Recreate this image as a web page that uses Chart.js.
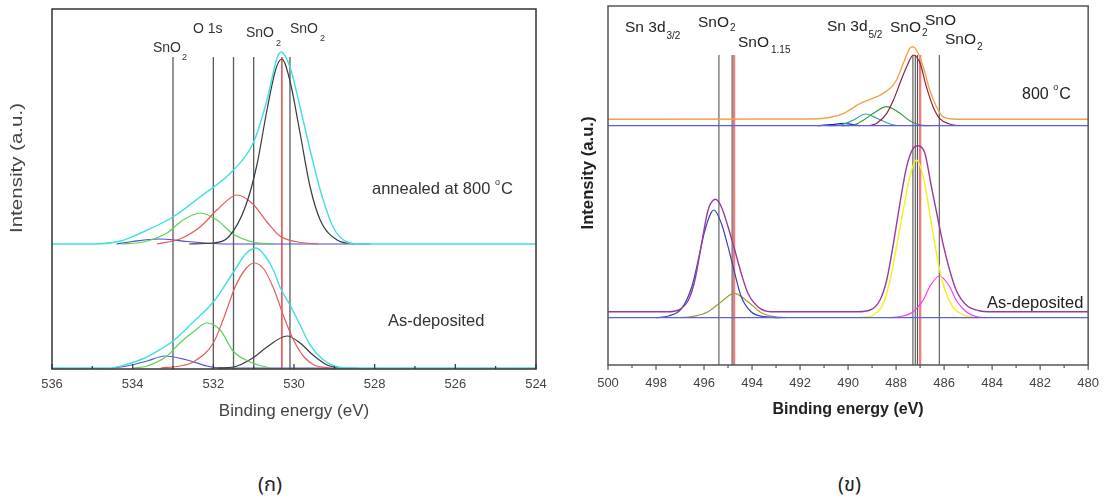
<!DOCTYPE html>
<html>
<head>
<meta charset="utf-8">
<script src="https://cdn.jsdelivr.net/npm/chart.js@4.4.1/dist/chart.umd.min.js"></script>
<style>
    body { margin: 0; background: #fff; width: 1110px; height: 499px; position: relative; overflow: hidden; }
    #boxA { position: absolute; left: 0; top: 0; width: 560px; height: 440px; }
    #boxB { position: absolute; left: 560px; top: 0; width: 550px; height: 440px; }
    .cap { position: absolute; top: 470px; font-size: 20px; color: #222; font-family: "Noto Sans Thai", "Noto Sans", "DejaVu Sans", sans-serif; }
</style>
</head>
<body>
<div id="boxA"><canvas id="chartA" width="560" height="440"></canvas></div>
<div id="boxB"><canvas id="chartB" width="550" height="440"></canvas></div>
<div class="cap" style="left:258px">(ก)</div>
<div class="cap" style="left:838px">(ข)</div>
<script>
"use strict";

// ---- (ก) O 1s : [binding energy eV, intensity] ----
var ticksA = [536, 534, 532, 530, 528, 526, 524];
var annealedTotal = [[536,125],[534.9,125],[534.3,128],[533.8,136],[533.0,152],[532.33,172],[531.5,199],[531.0,227],[530.67,269],[530.42,311],[530.32,317],[530.1,302],[529.85,262],[529.6,219],[529.35,179],[529.03,142],[528.69,127],[528.36,125],[524,125]];
var annealedBlack = [[532.6,125],[532.0,126],[531.6,133],[531.2,163],[530.92,204],[530.67,259],[530.45,300],[530.3,310],[530.1,288],[529.85,236],[529.6,182],[529.35,149],[528.93,129],[528.5,125]];
var annealedRed = [[533.4,125],[532.83,130],[532.33,142],[531.91,159],[531.41,174],[531.02,165],[530.67,147],[530.35,133],[529.9,127],[529.4,125]];
var annealedGreen = [[534.3,125],[533.74,127],[533.15,136],[532.75,149],[532.33,156],[531.91,149],[531.51,135],[531.02,127],[530.5,125]];
var annealedBlue = [[534.4,125],[534.0,127.5],[533.35,130],[532.65,127.5],[532.0,125.5],[531.5,125],[528.1,125]];

var depositedTotal = [[536,1],[534.6,1],[534.2,4],[533.7,11],[533.3,20],[533.0,28],[532.5,47],[532.0,67],[531.5,97],[531.2,115],[530.94,121],[530.7,112],[530.5,98],[530.35,82],[530.1,64],[529.85,44],[529.6,24],[529.3,10],[529.0,3],[528.6,1],[524,1]];
var depositedRed = [[533.3,1],[532.83,3],[532.5,7],[532.0,26],[531.75,50],[531.46,82],[531.2,100],[530.99,106],[530.75,100],[530.5,80],[530.25,52],[530.0,28],[529.75,12],[529.5,4],[529.1,1]];
var depositedGreen = [[534.0,1],[533.64,3],[533.15,13],[532.83,26],[532.5,37],[532.16,46],[531.83,39],[531.51,18],[531.09,7],[530.6,1]];
var depositedBlue = [[534.5,1],[534.14,3],[533.64,8],[533.2,13],[532.65,9],[532.16,3],[531.8,1],[528.4,1]];
var depositedBlack = [[531.9,1],[531.5,2],[531.02,11],[530.67,22],[530.17,33],[529.85,26],[529.53,14],[529.18,4],[528.86,1]];

var markersA = [533.0, 532.0, 531.5, 531.0, 530.1];
var markersARed = [530.3];

// ---- (ข) Sn 3d ----
var ticksB = [500, 498, 496, 494, 492, 490, 488, 486, 484, 482, 480];
var hotTotal = [[500,245.7],[491.42,246],[490.73,247.7],[490.18,251.7],[489.49,261.7],[488.8,268.3],[488.25,276.7],[487.98,285],[487.7,301.7],[487.43,316.7],[487.31,318.3],[487.15,315],[486.87,298.3],[486.6,275],[486.32,258.3],[486.05,248.3],[485.5,245.7],[480,245.7]];
var hotBase = [[500,239.3],[480,239.3]];
var hotMaroon = [[489.1,239.3],[488.8,241.7],[488.39,251.7],[488.11,265],[487.84,281.7],[487.56,298.3],[487.28,310],[487.0,301.7],[486.74,278.3],[486.46,258.3],[486.19,246.7],[485.77,241],[485.4,239.3]];
var hotGreen = [[490.3,239.3],[489.77,240],[489.35,245],[488.94,251.7],[488.39,258.3],[487.84,251.7],[487.43,244.3],[487.0,240],[486.6,239.3]];
var hotTeal = [[490.8,239.3],[490.32,240],[489.77,245],[489.27,251],[488.8,246.7],[488.25,241],[487.98,239.3]];
var hotNavy = [[491.3,239.3],[490.7,240.3],[490.18,241.7],[489.8,240.5],[489.5,239.3]];

var asdepTotal = [[500,53.3],[497.5,53.3],[497.07,55],[496.65,65],[496.38,85],[496.1,121.7],[495.83,155],[495.52,165.7],[495.28,158.3],[495.0,138.3],[494.72,115],[494.45,91.7],[494.17,71.7],[493.76,58.3],[493.21,53.3],[489.6,53.3],[489.08,55],[488.67,65],[488.39,85],[488.11,121.7],[487.84,161.7],[487.56,198.3],[487.29,216.7],[487.08,219.3],[486.8,211.7],[486.53,178.3],[486.25,145],[486.05,121.7],[485.77,95],[485.5,75],[485.08,60],[484.54,54.3],[484.0,53.3],[480,53.3]];
var asdepBase = [[500,47.3],[480,47.3]];
var asdepBlue = [[498.0,47.3],[497.48,49],[496.93,56.7],[496.51,78.3],[496.24,105],[495.96,135],[495.59,155],[495.28,141.7],[495.0,118.3],[494.72,91.7],[494.45,68.3],[494.04,53.3],[493.49,48.3],[492.8,47.3]];
var asdepOlive = [[497.0,47.3],[496.51,48.3],[495.83,53.3],[495.28,63.3],[494.75,71.7],[494.17,63.3],[493.62,52.3],[493.07,48.3],[492.6,47.3]];
var asdepYellow = [[489.5,47.3],[488.94,50],[488.53,61.7],[488.25,85],[487.98,118.3],[487.7,155],[487.43,188.3],[487.15,205],[486.87,188.3],[486.6,151.7],[486.32,111.7],[486.05,81.7],[485.64,58.3],[485.08,49],[484.6,47.3]];
var asdepMagenta = [[488.25,47.3],[487.84,48.3],[487.29,53.3],[486.87,65],[486.6,78.3],[486.19,89],[485.77,78.3],[485.5,65],[485.08,53.3],[484.67,48.3],[484.26,47.3]];

var markersB = [495.38, 494.83, 487.30, 487.20, 487.11, 486.20];
var markersBRed = [494.75, 487.0];

var FONT = 'Arial, "Liberation Sans", sans-serif';

function pts(a) {
    return a.map(function (p) { return { x: p[0], y: p[1] }; });
}

function curve(a, color, width, order) {
    return {
        data: pts(a),
        borderColor: color,
        borderWidth: width || 1.2,
        pointRadius: 0,
        fill: false,
        cubicInterpolationMode: 'monotone',
        order: order || 1
    };
}

function marker(e, top, color, width) {
    return {
        data: [{ x: e, y: 0 }, { x: e, y: top }],
        borderColor: color,
        borderWidth: width,
        pointRadius: 0,
        fill: false,
        order: 9
    };
}

// text with optional sub / superscript pieces: [[text, size, dy], ...]
function label(ctx, x, y, parts, color, weight) {
    ctx.fillStyle = color;
    ctx.textBaseline = 'alphabetic';
    ctx.textAlign = 'left';
    parts.forEach(function (p) {
        ctx.font = (weight || '') + ' ' + p[1] + 'px ' + FONT;
        ctx.fillText(p[0], x, y + (p[2] || 0));
        x += ctx.measureText(p[0]).width + (p[3] || 0);
    });
}

function yTitle(ctx, text, cx, cy, len, font, color) {
    ctx.save();
    ctx.font = font;
    ctx.fillStyle = color;
    ctx.textAlign = 'center';
    ctx.textBaseline = 'middle';
    var w = ctx.measureText(text).width;
    ctx.translate(cx, cy);
    ctx.rotate(-Math.PI / 2);
    ctx.scale(len / w, 1);
    ctx.fillText(text, 0, 0);
    ctx.restore();
}

function framePlugin(frameColor, inward, drawTexts) {
    return {
        id: 'frame',
        afterDatasetsDraw: function (chart) {
            var ctx = chart.ctx, a = chart.chartArea, sx = chart.scales.x;
            ctx.save();
            ctx.strokeStyle = frameColor;
            ctx.lineWidth = 1.5;
            ctx.strokeRect(a.left, a.top, a.right - a.left, a.bottom - a.top);
            ctx.lineWidth = 1.2;
            for (var v = sx.min; v <= sx.max; v += 1) {
                var px = sx.getPixelForValue(v);
                var len = (v % 2 === 0) ? 5 : 3;
                ctx.beginPath();
                ctx.moveTo(px, a.bottom);
                ctx.lineTo(px, inward ? a.bottom - len : a.bottom + len);
                ctx.stroke();
            }
            drawTexts(ctx);
            ctx.restore();
        }
    };
}

function baseOptions(xmin, xmax, ticks, yTop, xh, yw, pad, tickPad, titleFont, titleColor, titlePadBottom) {
    return {
        responsive: false,
        animation: false,
        events: [],
        layout: { padding: pad },
        plugins: { legend: { display: false }, tooltip: { enabled: false } },
        scales: {
            x: {
                type: 'linear',
                reverse: true,
                min: xmin,
                max: xmax,
                afterBuildTicks: function (s) { s.ticks = ticks.map(function (v) { return { value: v }; }); },
                afterFit: function (s) { s.height = xh; },
                grid: { display: false, drawTicks: false },
                border: { display: false },
                ticks: { padding: tickPad, color: '#444', font: { family: FONT, size: 13 } },
                title: {
                    display: true,
                    text: 'Binding energy (eV)',
                    color: titleColor,
                    font: titleFont,
                    padding: { top: 0, bottom: titlePadBottom }
                }
            },
            y: {
                min: 0,
                max: yTop,
                afterFit: function (s) { s.width = yw; },
                grid: { display: false },
                border: { display: false },
                ticks: { display: false }
            }
        }
    };
}

// ---- chart (ก) ----
var setsA = [
    curve(annealedTotal, '#44dede', 1.4, 1),
    curve(annealedBlack, '#3a3a3a', 1.2, 2),
    curve(annealedRed, '#e65a5a', 1.2, 2),
    curve(annealedGreen, '#5ad25a', 1.2, 2),
    curve(annealedBlue, '#4a4ad6', 1.2, 3),
    curve(depositedTotal, '#44dede', 1.4, 1),
    curve(depositedRed, '#e65a5a', 1.2, 2),
    curve(depositedGreen, '#5ad25a', 1.2, 2),
    curve(depositedBlue, '#5a5ad6', 1.2, 3),
    curve(depositedBlack, '#3a3a3a', 1.2, 2)
];
markersA.forEach(function (e) { setsA.push(marker(e, 312, '#5a5a5a', 1.3)); });
markersARed.forEach(function (e) { setsA.push(marker(e, 312, '#e02a2a', 1.3)); });

new Chart(document.getElementById('chartA').getContext('2d'), {
    type: 'line',
    data: { datasets: setsA },
    options: baseOptions(524, 536, ticksA, 360, 71, 52, { left: 0, top: 9, right: 24, bottom: 0 }, 8,
        { family: FONT, size: 17 }, '#444', 18),
    plugins: [framePlugin('#333', true, function (ctx) {
        var c = '#333';
        label(ctx, 153, 52, [['SnO', 14, 0, 1], ['2', 9, 8]], c);
        label(ctx, 193, 33, [['O 1s', 14]], c);
        label(ctx, 246, 37, [['SnO', 14, 0, 2], ['2', 9, 9]], c);
        label(ctx, 290, 33, [['SnO', 14, 0, 2], ['2', 9, 8]], c);
        label(ctx, 372, 194, [['annealed at 800 ', 16.5], ['o', 9, -9, 1], ['C', 16.5]], c);
        label(ctx, 388, 326, [['As-deposited', 16.5]], c);
        yTitle(ctx, 'Intensity (a.u.)', 17, 168, 130, '17px ' + FONT, '#444');
    })]
});

// ---- chart (ข) ----
var setsB = [
    curve(hotTotal, '#f2a24a', 1.4, 1),
    curve(hotBase, '#5c5ce6', 1.3, 2),
    curve(hotMaroon, '#8e2440', 1.2, 2),
    curve(hotGreen, '#2f9e3c', 1.2, 2),
    curve(hotTeal, '#2ea3a8', 1.2, 2),
    curve(hotNavy, '#1a26a8', 1.2, 2),
    curve(asdepTotal, '#9a3a9e', 1.4, 1),
    curve(asdepBase, '#6262d8', 1.3, 2),
    curve(asdepBlue, '#3444b4', 1.2, 2),
    curve(asdepOlive, '#9c9a30', 1.2, 2),
    curve(asdepYellow, '#f2f21a', 1.4, 2),
    curve(asdepMagenta, '#f53cf5', 1.2, 2)
];
markersB.forEach(function (e) { setsB.push(marker(e, 310, '#555', 1.1)); });
markersBRed.forEach(function (e) { setsB.push(marker(e, 310, 'rgba(240,100,100,0.85)', 2.4)); });

new Chart(document.getElementById('chartB').getContext('2d'), {
    type: 'line',
    data: { datasets: setsB },
    options: baseOptions(480, 500, ticksB, 359, 75, 48, { left: 0, top: 6, right: 17, bottom: 0 }, 11,
        { family: FONT, size: 16, weight: 'bold' }, '#222', 21),
    plugins: [framePlugin('#555', false, function (ctx) {
        var c = '#222';
        label(ctx, 65, 32, [['Sn 3d', 15.5, 0, 1], ['3/2', 10, 7]], c);
        label(ctx, 138, 27, [['SnO', 15.5, 0, 1], ['2', 10, 4]], c);
        label(ctx, 178, 47, [['SnO', 15.5, 0, 2], ['1.15', 10, 6]], c);
        label(ctx, 267, 31, [['Sn 3d', 15.5, 0, 1], ['5/2', 10, 7]], c);
        label(ctx, 330, 32, [['SnO', 15.5, 0, 1], ['2', 10, 4]], c);
        label(ctx, 365, 25, [['SnO', 15.5]], c);
        label(ctx, 385, 44, [['SnO', 15.5, 0, 1], ['2', 10, 6]], c);
        label(ctx, 462, 99, [['800 ', 16], ['o', 9, -9, 1], ['C', 16]], c);
        label(ctx, 427, 308, [['As-deposited', 16.5]], c);
        yTitle(ctx, 'Intensity (a.u.)', 29, 173, 113, 'bold 16px ' + FONT, '#222');
    })]
});
</script>
</body>
</html>
